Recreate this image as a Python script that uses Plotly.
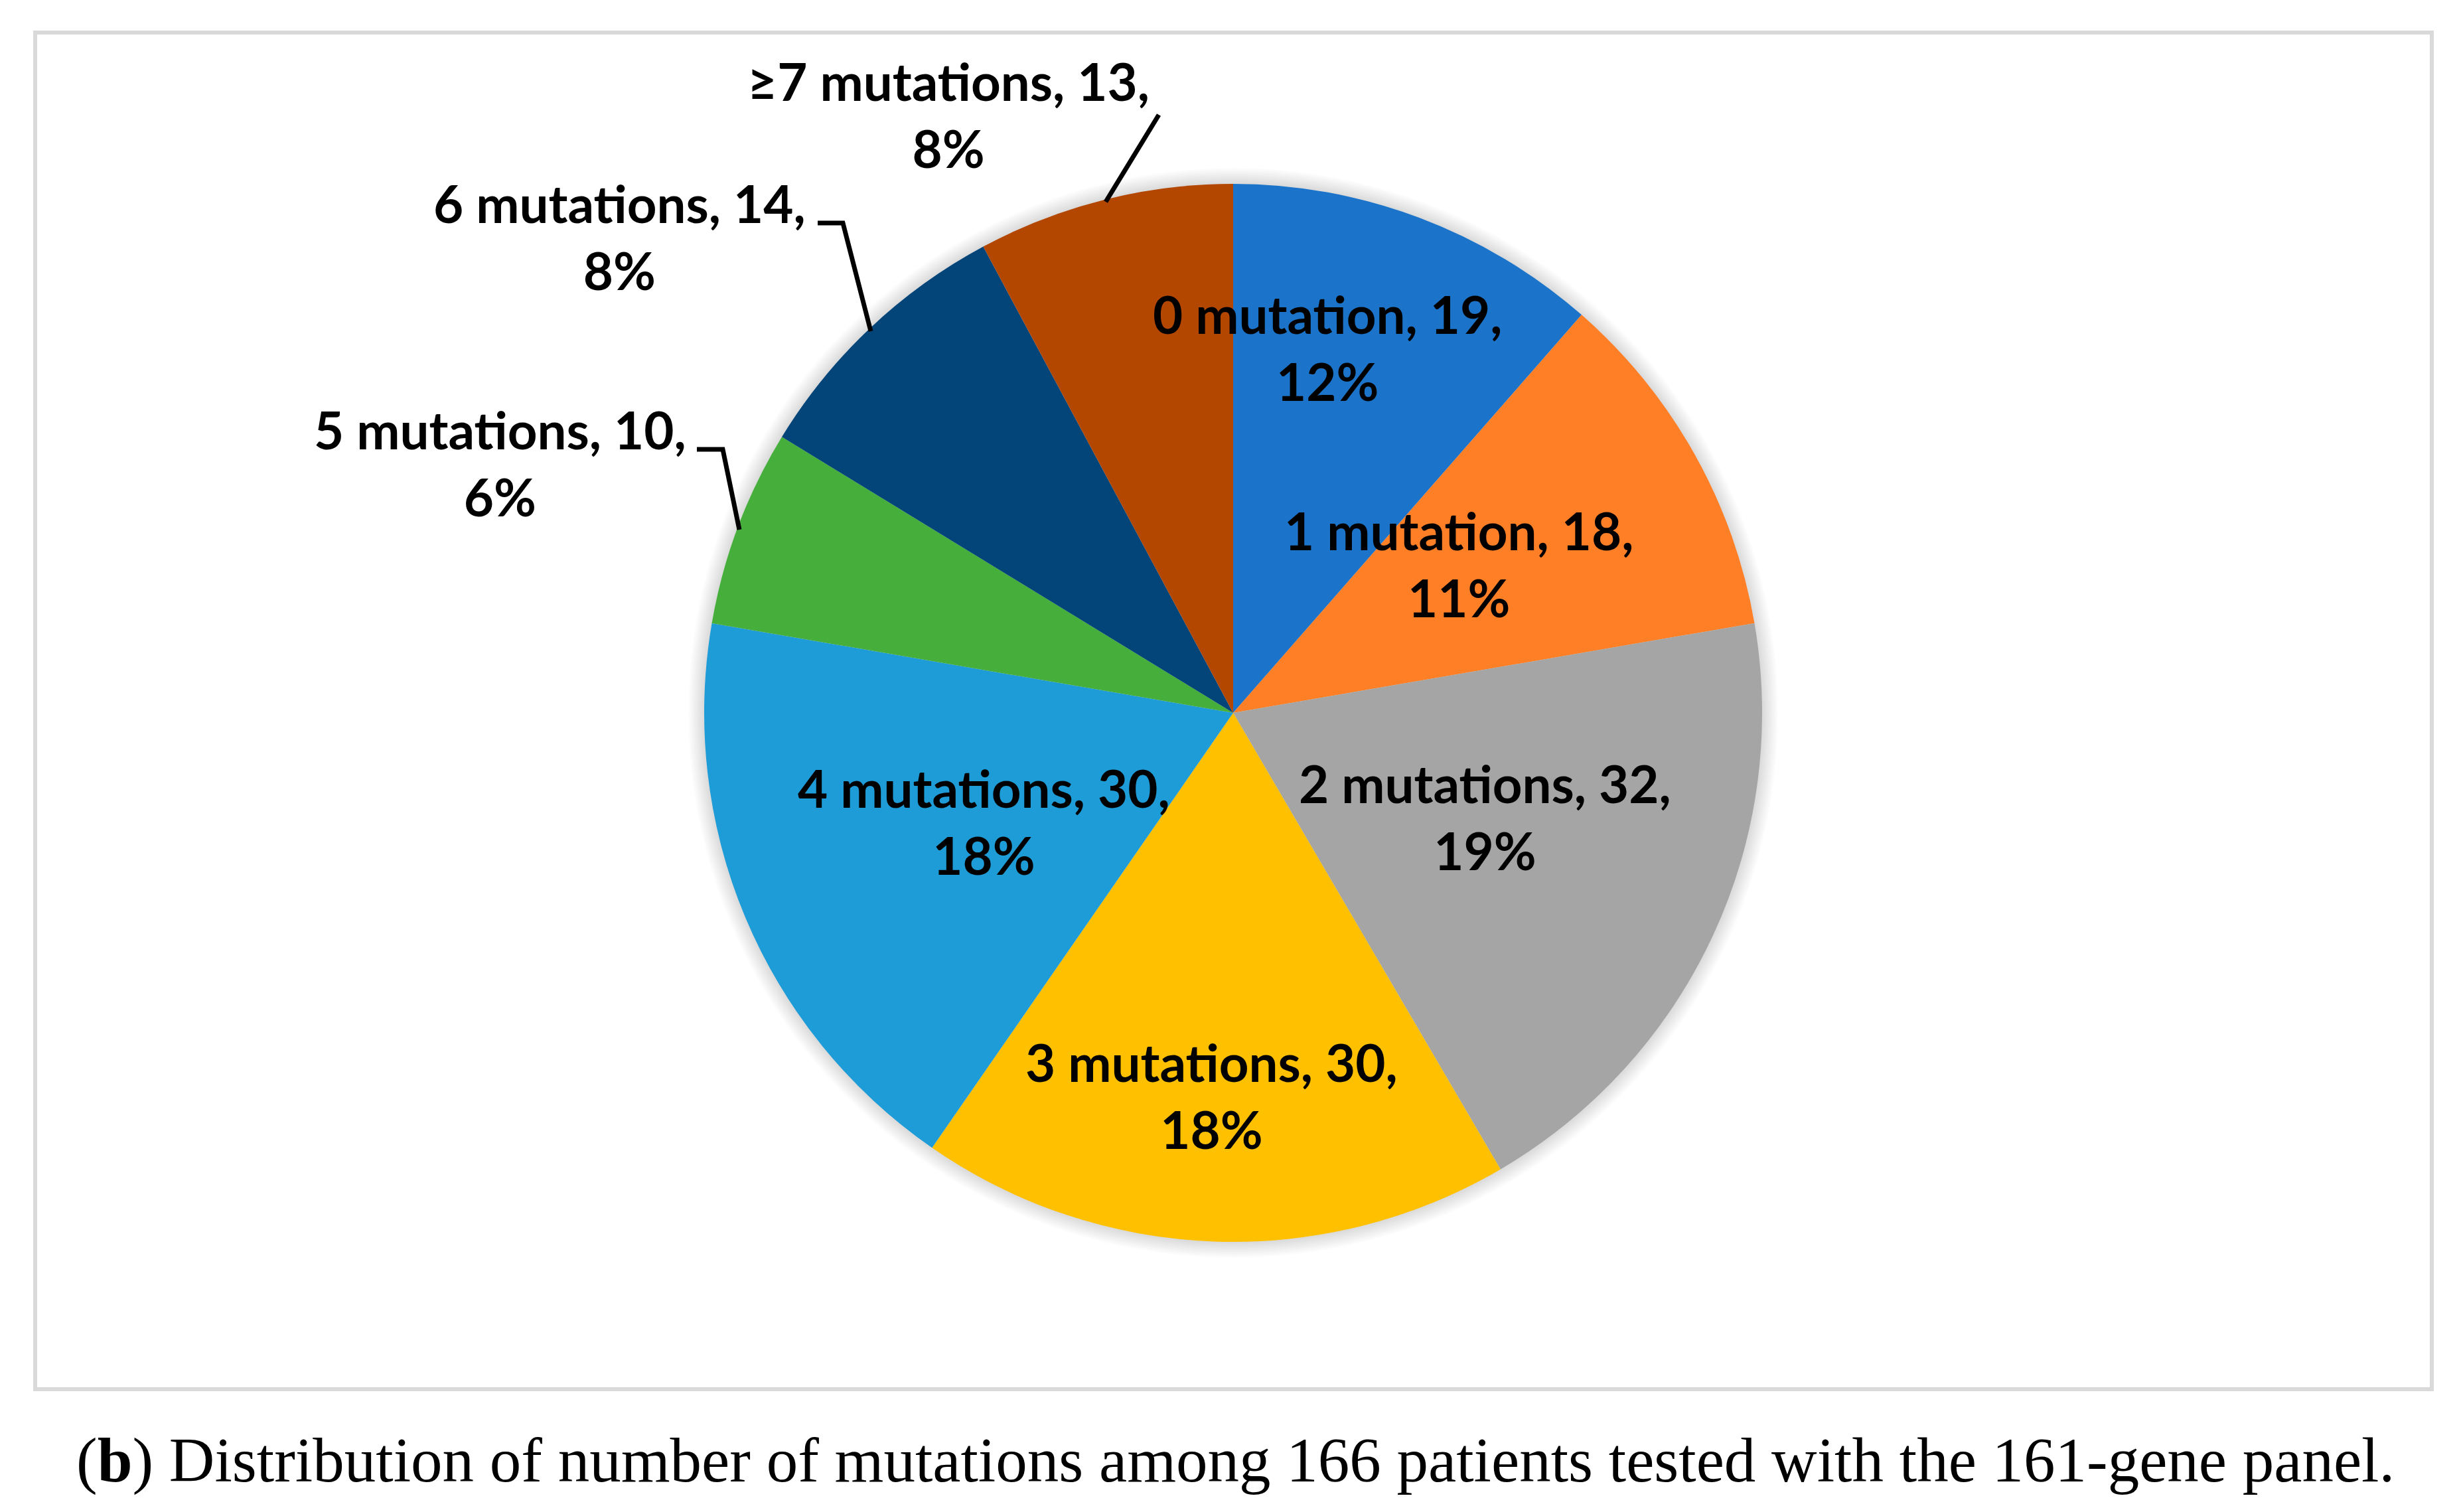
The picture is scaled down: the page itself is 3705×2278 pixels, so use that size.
import plotly.graph_objects as go

# ---- data ----
categories = ["0 mutation", "1 mutation", "2 mutations", "3 mutations",
              "4 mutations", "5 mutations", "6 mutations", "\u22657 mutations"]
counts = [19, 18, 32, 30, 30, 10, 14, 13]
pct_labels = ["12%", "11%", "19%", "18%", "18%", "6%", "8%", "8%"]
colors = ["#1B74C9", "#FF7F27", "#A5A5A5", "#FFC000",
          "#1E9CD8", "#46AF3C", "#034479", "#B34700"]
caption = "(<b>b</b>) Distribution of number of mutations among 166 patients tested with the 161-gene panel."

W, H = 3705, 2278
cx, cy, R = 1850, 1066, 797

fig = go.Figure()
fig.add_trace(go.Pie(
    labels=categories, values=counts, sort=False, direction="clockwise",
    rotation=0, textinfo="none", hoverinfo="label+value+percent",
    marker=dict(colors=colors, line=dict(width=0)),
    domain=dict(x=[(cx - R) / W, (cx + R) / W],
                y=[(H - cy - R) / H, (H - cy + R) / H]),
    showlegend=False,
))

# label positions (pixel coords, y downward)
label_pos = [(1992, 515), (2190, 841), (2229, 1222), (1817, 1642),
             (1474, 1229), (745, 689), (925, 348), (1421, 164)]

annotations = []
for cat, n, p, (x, y) in zip(categories, counts, pct_labels, label_pos):
    annotations.append(dict(
        x=x, y=y, xref="x", yref="y", showarrow=False,
        text=f"{cat}, {n},<br>{p}", xanchor="center", yanchor="middle",
        font=dict(family="Lato", size=78, color="black", weight="bold"),
    ))
annotations.append(dict(
    x=1853, y=2192, xref="x", yref="y", showarrow=False, text=caption,
    xanchor="center", yanchor="middle",
    font=dict(family="Liberation Serif", size=95, color="black"),
))

shapes = []
# soft shadow around the pie
for i in range(12):
    d = 2 + 2 * i
    shapes.append(dict(type="circle", xref="x", yref="y", layer="below",
                       x0=cx - R - d, x1=cx + R + d, y0=cy - R - d, y1=cy + R + d,
                       fillcolor="rgba(0,0,0,0.013)", line=dict(width=0)))
# chart border
shapes.append(dict(type="rect", xref="x", yref="y", layer="below",
                   x0=45, x1=3656, y0=41, y1=2085,
                   line=dict(color="#D9D9D9", width=6), fillcolor="rgba(0,0,0,0)"))
# leader lines
leaders = [
    "M 1738,165 L 1658,296",
    "M 1224,328 L 1262,328 L 1304,491",
    "M 1042,669 L 1081,669 L 1106,790",
]
for p in leaders:
    shapes.append(dict(type="path", xref="x", yref="y", path=p,
                       line=dict(color="black", width=7)))

fig.update_layout(
    width=W, height=H, margin=dict(l=0, r=0, t=0, b=0),
    paper_bgcolor="white", plot_bgcolor="white",
    xaxis=dict(range=[0, W], visible=False, fixedrange=True),
    yaxis=dict(range=[H, 0], visible=False, fixedrange=True),
    annotations=annotations, shapes=shapes,
)
fig.write_html("out.html")
